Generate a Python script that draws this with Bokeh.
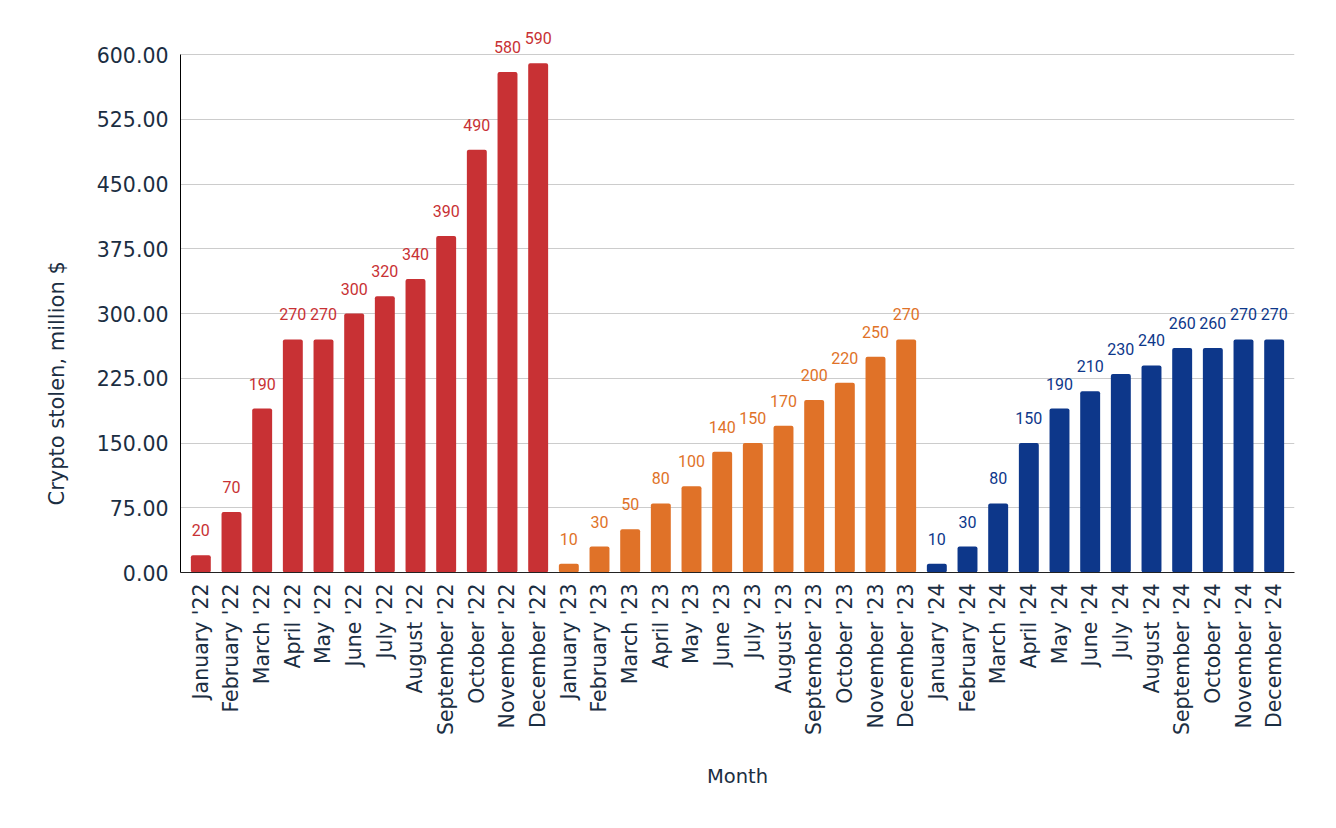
import math
from bokeh.plotting import figure
from bokeh.models import ColumnDataSource, FactorRange, Range1d, FixedTicker, NumeralTickFormatter, Title
from bokeh.core.properties import value
from bokeh.embed import file_html
from bokeh.resources import INLINE

month_names = ["January", "February", "March", "April", "May", "June", "July",
               "August", "September", "October", "November", "December"]
years = ["'22", "'23", "'24"]
values_2022 = [20, 70, 190, 270, 270, 300, 320, 340, 390, 490, 580, 590]
values_2023 = [10, 30, 50, 80, 100, 140, 150, 170, 200, 220, 250, 270]
values_2024 = [10, 30, 80, 150, 190, 210, 230, 240, 260, 260, 270, 270]
year_colors = ["#C83134", "#E07228", "#0D378A"]
y_ticks = [0, 75, 150, 225, 300, 375, 450, 525, 600]

TEXT = "#1B2E42"

cats, vals, cols = [], [], []
for yr, series, c in zip(years, [values_2022, values_2023, values_2024], year_colors):
    for m, v in zip(month_names, series):
        cats.append(f"{m} {yr}")
        vals.append(v)
        cols.append(c)

src = ColumnDataSource(dict(x=cats, top=vals, color=cols, label=[str(v) for v in vals]))

p = figure(x_range=FactorRange(*cats, range_padding=0.163, range_padding_units="absolute"),
           y_range=Range1d(0, 635),
           frame_width=1114, frame_height=548,
           min_border_left=180, min_border_top=24, min_border_right=20, min_border_bottom=20,
           output_backend="svg", toolbar_location=None, background_fill_color="white",
           border_fill_color="white")
p.outline_line_color = None

p.vbar(x="x", top="top", width=0.65, source=src, fill_color="color", line_color=None,
       border_radius=2)
p.text(x="x", y="top", text="label", source=src, text_color="color",
       text_font=value("Roboto"), text_font_size="16px", text_align="center",
       text_baseline="middle", y_offset=-25)

p.xgrid.grid_line_color = None
p.ygrid.grid_line_color = "#CCCCCC"
p.ygrid.ticker = FixedTicker(ticks=y_ticks)

ya = p.yaxis[0]
ya.ticker = FixedTicker(ticks=y_ticks)
ya.formatter = NumeralTickFormatter(format="0.00")
ya.bounds = (0, 600)
ya.major_tick_line_color = None
ya.minor_tick_line_color = None
ya.major_tick_out = 0
ya.minor_tick_out = 0
ya.axis_line_color = "#000000"
ya.major_label_text_font = "DejaVu Sans"
ya.major_label_text_font_size = "20.5px"
ya.major_label_text_color = TEXT
ya.major_label_standoff = 12

xa = p.xaxis[0]
xa.major_tick_line_color = None
xa.minor_tick_line_color = None
xa.major_tick_out = 0
xa.minor_tick_out = 0
xa.axis_line_color = "#222222"
xa.major_label_orientation = math.pi / 2
xa.major_label_text_font = "DejaVu Sans"
xa.major_label_text_font_size = "20.5px"
xa.major_label_text_color = TEXT
xa.major_label_standoff = 11
xa.axis_label = "Month"
xa.axis_label_text_font = "DejaVu Sans"
xa.axis_label_text_font_size = "19.5px"
xa.axis_label_text_font_style = "normal"
xa.axis_label_text_color = TEXT
xa.axis_label_standoff = 27

ytitle = Title(text="Crypto stolen, million $", align="left", offset=67, standoff=50,
               text_font="DejaVu Sans", text_font_size="21px", text_color=TEXT,
               text_font_style="normal")
p.add_layout(ytitle, "left")

open("out.html", "w").write(file_html(p, INLINE))
